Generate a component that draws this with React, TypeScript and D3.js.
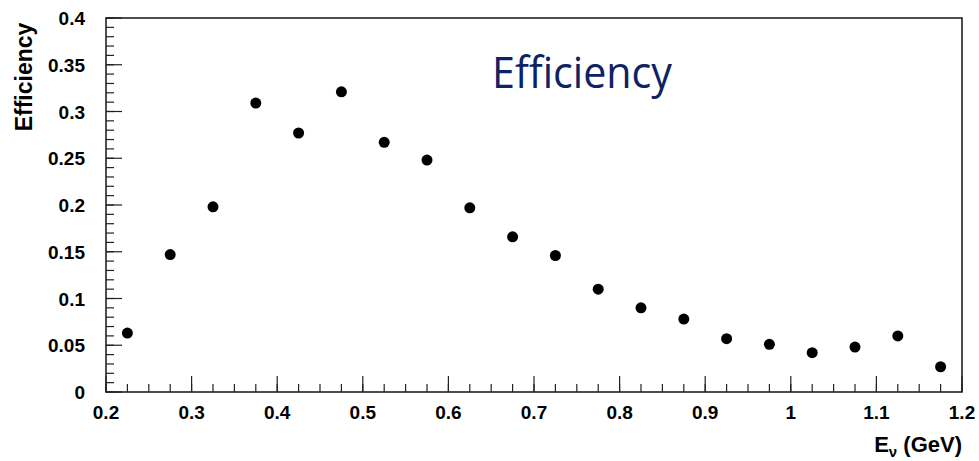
import * as d3 from "d3";

const energies = [
  0.225, 0.275, 0.325, 0.375, 0.425, 0.475, 0.525, 0.575, 0.625, 0.675,
  0.725, 0.775, 0.825, 0.875, 0.925, 0.975, 1.025, 1.075, 1.125, 1.175,
];
const efficiency = [
  0.063, 0.147, 0.198, 0.309, 0.277, 0.321, 0.267, 0.248, 0.197, 0.166,
  0.146, 0.11, 0.09, 0.078, 0.057, 0.051, 0.042, 0.048, 0.06, 0.027,
];
const xMajorTicks = [0.2, 0.3, 0.4, 0.5, 0.6, 0.7, 0.8, 0.9, 1, 1.1, 1.2];
const yMajorTicks = [0, 0.05, 0.1, 0.15, 0.2, 0.25, 0.3, 0.35, 0.4];

const W = 979;
const H = 461;
const margin = { top: 18, right: 17, bottom: 69, left: 106 };

export default function App() {
  const x = d3
    .scaleLinear()
    .domain([0.2, 1.2])
    .range([margin.left, W - margin.right]);
  const y = d3
    .scaleLinear()
    .domain([0, 0.4])
    .range([H - margin.bottom, margin.top]);

  const x0 = margin.left;
  const y0 = H - margin.bottom;
  const xMinor = d3.range(0.2, 1.2001, 0.025);
  const yMinor = d3.range(0, 0.4001, 0.01);
  const fmt = (d: number) => String(+d.toFixed(3));
  const font = "'Liberation Sans', Arial, sans-serif";

  return (
    <svg
      width={W}
      height={H}
      style={{ position: "absolute", left: 0, top: 0, background: "#fff" }}
    >
      {/* minor ticks */}
      {xMinor.map((d, i) => (
        <line key={"xm" + i} x1={x(d)} x2={x(d)} y1={y0} y2={y0 - 8} stroke="#222" strokeWidth={1.2} />
      ))}
      {yMinor.map((d, i) => (
        <line key={"ym" + i} x1={x0} x2={x0 + 8} y1={y(d)} y2={y(d)} stroke="#222" strokeWidth={1.2} />
      ))}
      {/* major ticks + labels */}
      {xMajorTicks.map((d) => (
        <g key={"x" + d}>
          <line x1={x(d)} x2={x(d)} y1={y0} y2={y0 - 16} stroke="#222" strokeWidth={1.2} />
          <text
            x={x(d)}
            y={y0 + 27}
            textAnchor="middle"
            fontFamily={font}
            fontWeight="bold"
            fontSize={19}
            fill="#000"
          >
            {fmt(d)}
          </text>
        </g>
      ))}
      {yMajorTicks.map((d) => (
        <g key={"y" + d}>
          <line x1={x0} x2={x0 + 16} y1={y(d)} y2={y(d)} stroke="#222" strokeWidth={1.2} />
          <text
            x={85}
            y={y(d) + 7}
            textAnchor="end"
            fontFamily={font}
            fontWeight="bold"
            fontSize={19}
            fill="#000"
          >
            {fmt(d)}
          </text>
        </g>
      ))}
      {/* frame */}
      <rect
        x={x0}
        y={margin.top}
        width={W - margin.right - margin.left}
        height={H - margin.bottom - margin.top}
        fill="none"
        stroke="#222"
        strokeWidth={1.6}
      />
      {/* points */}
      {energies.map((e, i) => (
        <circle key={i} cx={x(e)} cy={y(efficiency[i])} r={5.5} fill="#000" />
      ))}
      {/* axis titles */}
      <text
        transform={`translate(32,${margin.top + 59}) rotate(-90)`}
        textAnchor="middle"
        fontFamily={font}
        fontWeight="bold"
        fontSize={23}
        fill="#000"
      >
        Efficiency
      </text>
      <text
        x={W - margin.right}
        y={452}
        textAnchor="end"
        fontFamily={font}
        fontWeight="bold"
        fontSize={22}
        fill="#000"
      >
        E
        <tspan fontSize={15} dy={5}>ν</tspan>
        <tspan dy={-5}> (GeV)</tspan>
      </text>
      {/* in-plot title */}
      <text
        x={582}
        y={88}
        textAnchor="middle"
        fontFamily="'Open Sans', sans-serif"
        fontSize={44}
        fill="#0f2263"
        textLength={180}
        lengthAdjust="spacingAndGlyphs"
      >
        Efficiency
      </text>
    </svg>
  );
}
